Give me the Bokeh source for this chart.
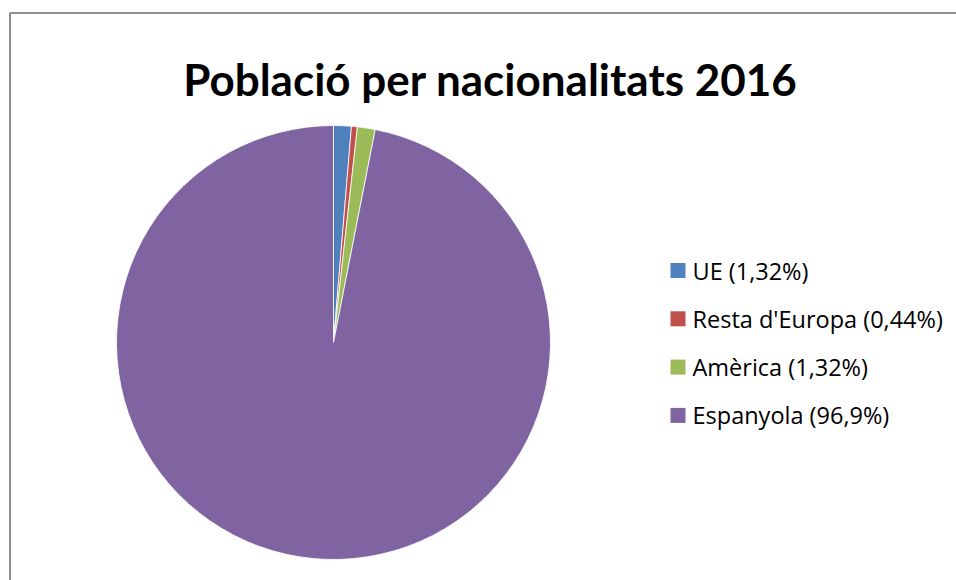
import math
from bokeh.plotting import figure
from bokeh.models import ColumnDataSource, Range1d
from bokeh.core.properties import value
from bokeh.embed import file_html
from bokeh.resources import INLINE

title_text = "Població per nacionalitats 2016"
categories = ["UE", "Resta d'Europa", "Amèrica", "Espanyola"]
percents = [1.32, 0.44, 1.32, 96.9]
colors = ["#4F81BD", "#C0504D", "#9BBB59", "#8064A2"]

W, H = 956, 580
p = figure(width=W, height=H, output_backend="svg", toolbar_location=None,
           x_range=Range1d(0, W), y_range=Range1d(0, H), min_border=0,
           outline_line_color=None)
p.axis.visible = False
p.grid.visible = False
p.background_fill_color = "white"
p.border_fill_color = "white"

# chart frame (extends beyond the visible window on the right/bottom)
p.quad(left=9.5, right=3000, top=567.5, bottom=-3000, fill_color=None,
       line_color="#8e8e8e", line_width=2)

# pie
total = sum(percents)
starts, ends = [], []
acc = 0.0
for v in percents:
    a0 = math.pi / 2 - (acc + v) / total * 2 * math.pi
    a1 = math.pi / 2 - acc / total * 2 * math.pi
    starts.append(a0)
    ends.append(a1)
    acc += v
src = ColumnDataSource(dict(start=starts, end=ends, color=colors))
cx, cy, r = 333, 238, 217
p.wedge(x=cx, y=cy, radius=r, radius_units="screen", start_angle="start",
        end_angle="end", direction="anticlock", fill_color="color",
        line_color="white", line_width=0.8, source=src)

# title
p.text(x=[490], y=[502], text=[title_text], text_font=value("Lato"),
       text_font_style="bold", text_font_size="44px", text_align="center",
       text_baseline="alphabetic", text_color="black")

# legend
labels = [f"{c} ({str(v).replace('.', ',')}%)" for c, v in zip(categories, percents)]
row_y = [310 - 48.3 * i for i in range(len(labels))]
p.scatter(x=[677.5] * len(labels), y=row_y, marker="square", size=15,
          fill_color=colors, line_color=None)
p.text(x=[692] * len(labels), y=row_y, text=labels, text_font=value("Open Sans"),
       text_font_size="23.5px", text_align="left", text_baseline="middle",
       text_color="black")

open("out.html", "w").write(file_html(p, INLINE))
